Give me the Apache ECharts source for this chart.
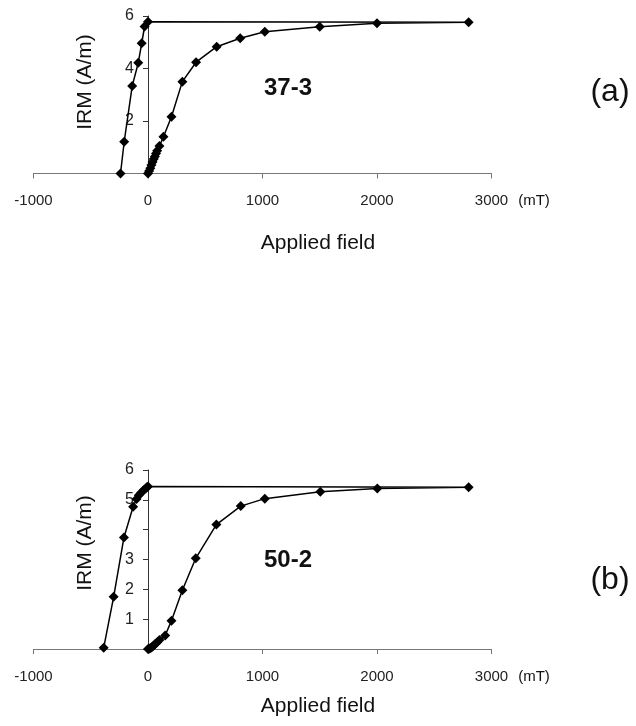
<!DOCTYPE html>
<html>
<head>
<meta charset="utf-8">
<script src="https://cdn.jsdelivr.net/npm/echarts@6/dist/echarts.min.js"></script>
<style>
  html, body { margin: 0; padding: 0; background: #fff; }
  #chart { width: 636px; height: 726px; }
</style>
</head>
<body>
<div id="chart"></div>
<script>
// (a) 37-3 : IRM acquisition, then backfield
var topAcqField = [0, 10, 20, 30, 40, 50, 60, 70, 80, 100, 135, 205, 300, 420, 600, 805, 1020, 1500, 2000, 2800];
var topAcqIRM = [0, 0.1, 0.2, 0.32, 0.44, 0.55, 0.65, 0.76, 0.87, 1.05, 1.40, 2.16, 3.50, 4.24, 4.83, 5.15, 5.40, 5.59, 5.72, 5.76];
var topBackField = [0, -30, -55, -85, -138, -208, -240];
var topBackIRM = [5.78, 5.6, 4.96, 4.22, 3.33, 1.21, 0];

// (b) 50-2
var botAcqField = [0, 10, 20, 30, 40, 50, 60, 80, 100, 150, 205, 300, 417, 597, 810, 1020, 1505, 2003, 2800];
var botAcqIRM = [0, 0.01, 0.03, 0.05, 0.08, 0.12, 0.16, 0.23, 0.3, 0.45, 0.95, 1.97, 3.04, 4.17, 4.79, 5.04, 5.27, 5.38, 5.42];
var botBackField = [0, -10, -20, -40, -60, -80, -100, -130, -210, -300, -387];
var botBackIRM = [5.45, 5.42, 5.38, 5.32, 5.24, 5.15, 5.03, 4.77, 3.74, 1.75, 0.04];

var xTicks = [-1000, 0, 1000, 2000, 3000];
var topYHidden = [0];
var botYHidden = [0, 4];

var font = '"Liberation Sans", Arial, sans-serif';
var gridLeft = 33.5, gridWidth = 458;
// y axis sits at field = 0
var yAxisShift = -gridWidth * (0 - xTicks[0]) / (xTicks[xTicks.length - 1] - xTicks[0]);

function pairs(xs, ys) {
    return xs.map(function (x, i) { return [x, ys[i]]; });
}

function xAxisFor(gridIndex) {
    return {
        type: 'value', gridIndex: gridIndex,
        min: xTicks[0], max: xTicks[xTicks.length - 1], interval: 1000,
        axisLine: { onZero: false, lineStyle: { color: '#777', width: 1 } },
        axisTick: { show: true, length: 5, lineStyle: { color: '#777' } },
        axisLabel: {
            color: '#222', fontSize: 15, fontFamily: font, margin: 20,
            formatter: function (v) { return String(v); }
        },
        splitLine: { show: false }
    };
}

function yAxisFor(gridIndex, interval, hidden) {
    return {
        type: 'value', gridIndex: gridIndex,
        min: 0, max: 6, interval: interval,
        offset: yAxisShift,
        axisLine: { show: true, onZero: false, lineStyle: { color: '#333', width: 1 } },
        axisTick: { show: true, length: 5, lineStyle: { color: '#333' } },
        axisLabel: {
            color: '#222', fontSize: 16, fontFamily: font, margin: 14,
            formatter: function (v) { return hidden.indexOf(v) >= 0 ? '' : String(v); }
        },
        splitLine: { show: false }
    };
}

function curve(idx, data) {
    return {
        type: 'line', xAxisIndex: idx, yAxisIndex: idx,
        data: data,
        symbol: 'diamond', symbolSize: 10,
        lineStyle: { color: '#000', width: 1.5 },
        itemStyle: { color: '#000' },
        z: 3,
        animation: false
    };
}

function txt(x, y, text, size, weight, rot) {
    return {
        type: 'text', x: x, y: y, rotation: rot || 0,
        style: {
            text: text, fill: '#111', font: (weight || 'normal') + ' ' + size + 'px ' + font,
            textAlign: 'center', textVerticalAlign: 'middle'
        }
    };
}

var chart = echarts.init(document.getElementById('chart'));
chart.setOption({
    backgroundColor: '#fff',
    animation: false,
    grid: [
        { left: gridLeft, width: gridWidth, top: 16, height: 157.5 },
        { left: gridLeft, width: gridWidth, top: 470, height: 179 }
    ],
    xAxis: [xAxisFor(0), xAxisFor(1)],
    yAxis: [yAxisFor(0, 2, topYHidden), yAxisFor(1, 1, botYHidden)],
    series: [
        curve(0, pairs(topAcqField, topAcqIRM).concat(pairs(topBackField, topBackIRM))),
        curve(1, pairs(botAcqField, botAcqIRM).concat(pairs(botBackField, botBackIRM)))
    ],
    graphic: [
        txt(85, 82, 'IRM (A/m)', 21, 'normal', Math.PI / 2),
        txt(318, 243, 'Applied field', 21),
        txt(534, 201, '(mT)', 15),
        txt(288, 88, '37-3', 24, 'bold'),
        txt(610, 92, '(a)', 32),
        txt(85, 543, 'IRM (A/m)', 21, 'normal', Math.PI / 2),
        txt(318, 706, 'Applied field', 21),
        txt(534, 677, '(mT)', 15),
        txt(288, 560, '50-2', 24, 'bold'),
        txt(610, 580, '(b)', 32)
    ]
});
</script>
</body>
</html>
